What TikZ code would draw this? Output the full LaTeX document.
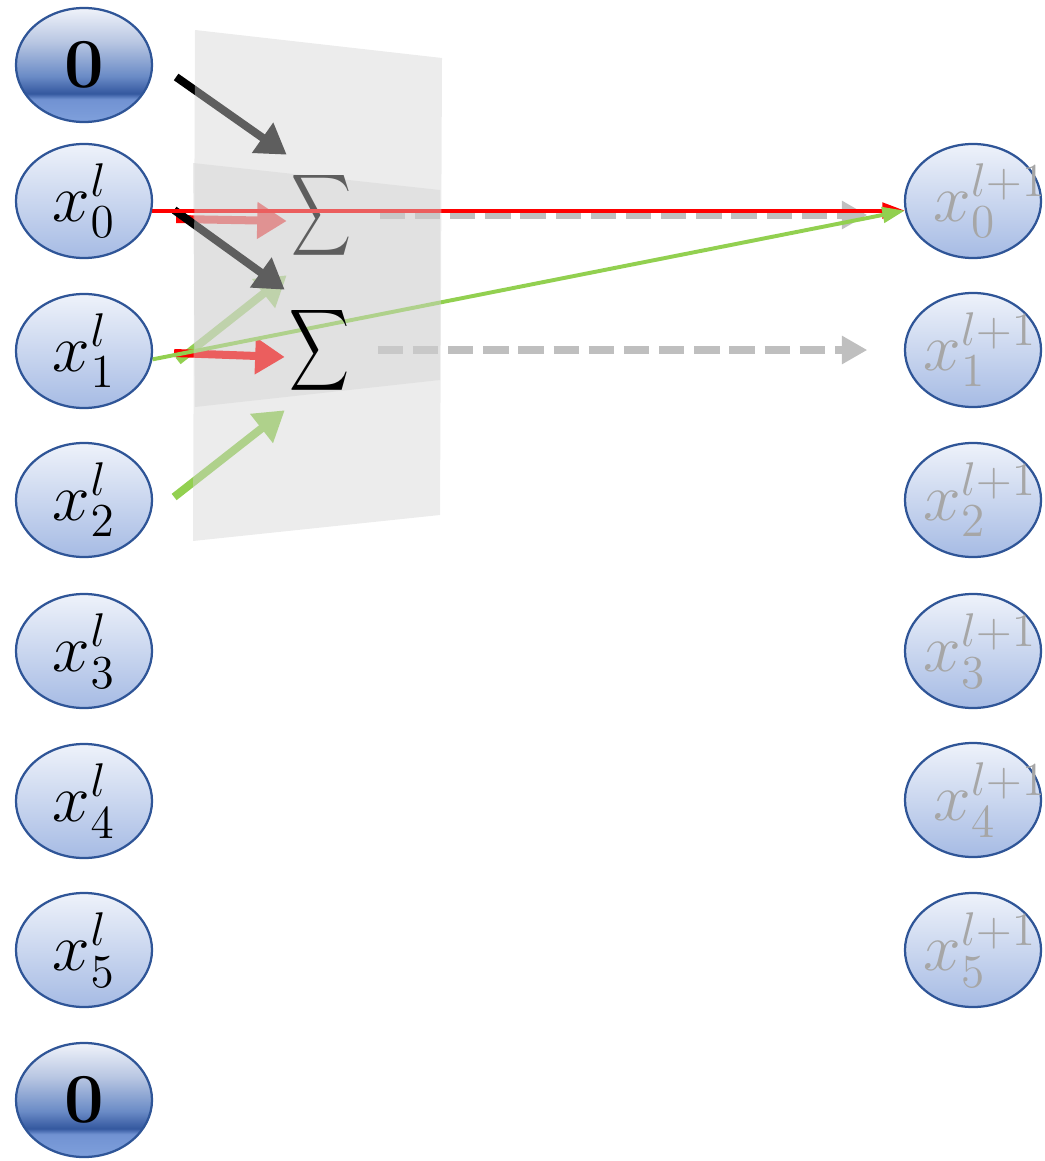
\RequirePackage{fix-cm}
\documentclass[tikz,border=0pt]{standalone}
\usepackage{fontspec}
\usepackage{graphicx}
\usepackage{tikz}
\usetikzlibrary{arrows.meta, calc, shapes.geometric}

\definecolor{nodeline}{HTML}{2F5597}
\definecolor{labelgray}{HTML}{A6A6A6}
\definecolor{dashgray}{HTML}{BFBFBF}
\definecolor{planegray}{HTML}{D4D4D4}
\definecolor{wgreen}{HTML}{92D050}
\definecolor{xtop}{HTML}{EEF2FA}
\definecolor{xbot}{HTML}{A6BBE4}
\definecolor{zA}{HTML}{7FA0DC}
\definecolor{zB}{HTML}{7192D2}
\definecolor{zC}{HTML}{34589F}
\definecolor{zD}{HTML}{6A8BC6}
\definecolor{zE}{HTML}{B8C6E2}
\definecolor{zF}{HTML}{F0F3FA}

\pgfdeclareverticalshading{xshade}{100bp}{color(0bp)=(xbot); color(25bp)=(xbot); color(75bp)=(xtop); color(100bp)=(xtop)}
\pgfdeclareverticalshading{zeroshade}{100bp}{color(0bp)=(zA); color(25bp)=(zA); color(35bp)=(zB); color(37.5bp)=(zC); color(45bp)=(zD); color(60bp)=(zE); color(75bp)=(zF); color(100bp)=(zF)}

% drawing order: stubs behind both planes, inner plane, the rest, outer plane
\pgfdeclarelayer{back}
\pgfdeclarelayer{inner}
\pgfdeclarelayer{mid}
\pgfdeclarelayer{outer}
\pgfsetlayers{back,inner,mid,outer,main}

% big math labels
\newcommand{\unitlbl}[1]{\scalebox{2}{$#1$}}

\begin{document}
\begin{tikzpicture}[
    x=0.025cm, y=-0.025cm,
    xnode/.style={ellipse, draw=nodeline, line width=1.6pt, shade, shading=xshade,
                  minimum width=3.4cm, minimum height=2.85cm, inner xsep=-10pt, inner ysep=-12pt,
                  font=\fontsize{24}{28}\selectfont},
    zeronode/.style={xnode, shading=zeroshade, font=\fontsize{50}{56}\selectfont\bfseries},
    ynode/.style={xnode, text=labelgray, inner xsep=-40pt},
    sigma/.style={inner sep=0pt, minimum width=1.75cm, minimum height=3cm},
    warr/.style={-{Triangle[length=21pt, width=25pt]}, line width=5.7pt},
    longarr/.style={-{Triangle[length=16pt, width=11pt]}, line width=2.8pt},
    dasharr/.style={-{Triangle[length=18pt, width=19pt]}, line width=5pt, dashgray,
                    dash pattern=on 18pt off 7pt, shorten <=16pt, shorten >=26pt},
    plane/.style={fill=planegray, fill opacity=0.447},
]
\useasboundingbox (0,0) rectangle (1044,1161);

% layer l
\node[zeronode] (z0) at (84,65) {0};
\foreach \i/\y in {0/201,1/351,2/500,3/651,4/801,5/950}
  \node[xnode] (x\i) at (84,\y) {\unitlbl{x_{\i}^{l}}};
\node[zeronode] (z1) at (84,1100) {0};

% layer l+1
\foreach \i/\y/\s in {0/201/24,1/350/10,2/500/10,3/651/10,4/800/24,5/950/10}
  \node[ynode] (y\i) at (973,\y) {\hspace{\s pt}\unitlbl{x_{\i}^{l+1}}};

% sums
\begin{pgfonlayer}{mid}
  \node[sigma] (s1) at (322,215) {\resizebox*{1.5cm}{2.28cm}{$\displaystyle\sum$}};
\end{pgfonlayer}
\node[sigma] (s2) at (320,350) {\resizebox*{1.5cm}{2.28cm}{$\displaystyle\sum$}};

\begin{pgfonlayer}{back}
  \draw[warr, red]    ($(x0.east)+(23,18)$) -- ($(s1.west)+(0,6)$);
  \draw[warr, wgreen] ($(x1.east)+(25,10)$) -- (s1.south west);
\end{pgfonlayer}

\begin{pgfonlayer}{inner}
  \fill[plane] (193,163) -- (440,190) -- (440,380) -- (195,407) -- cycle;
\end{pgfonlayer}

\begin{pgfonlayer}{mid}
  \draw[warr]         ($(z0.east)+(23,12)$) -- (s1.north west);
  \draw[warr]         ($(x0.east)+(21,9)$)  -- (s2.north west);
  \draw[warr, red]    ($(x1.east)+(21,2)$)  -- ($(s2.west)+(0,7)$);
  \draw[warr, wgreen] ($(x2.east)+(21,-3)$) -- (s2.south west);
  \draw[dasharr] (s1.east) -- (s1.east -| y0.west);
  \draw[dasharr] (s2.east) -- (s2.east -| y1.west);
  \draw[longarr, red]    (x0.-8) -- (y0.188);
  \draw[longarr, wgreen] (x1.-7) -- (y0.188);
\end{pgfonlayer}

\begin{pgfonlayer}{outer}
  \fill[plane] (195,30) -- (442,58) -- (440,515) -- (193,541) -- cycle;
\end{pgfonlayer}
\end{tikzpicture}
\end{document}
